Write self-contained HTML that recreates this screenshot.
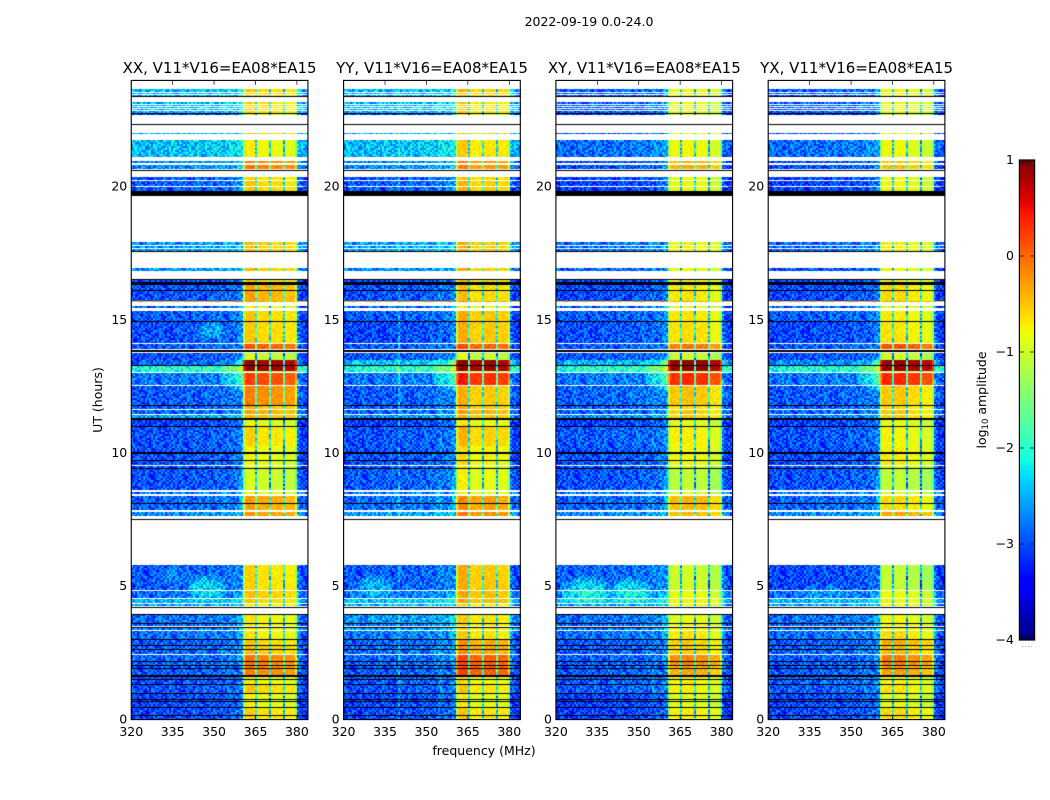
<!DOCTYPE html>
<html lang="en">
<head>
<meta charset="utf-8">
<title>2022-09-19 0.0-24.0 spectrograms</title>
<style>
html,body{margin:0;padding:0;background:#fff;width:1050px;height:800px;overflow:hidden}
#figure{position:relative;width:1050px;height:800px;background:#fff;font-family:"DejaVu Sans","Liberation Sans",sans-serif}
canvas{position:absolute;display:block}
svg{position:absolute;left:0;top:0}
text{font-family:"DejaVu Sans","Liberation Sans",sans-serif;fill:#000}
</style>
</head>
<body>
<div id="figure">
<canvas id="heat0" width="177" height="640" style="left:131px;top:80px"></canvas>
<canvas id="heat1" width="177" height="640" style="left:344px;top:80px"></canvas>
<canvas id="heat2" width="177" height="640" style="left:556px;top:80px"></canvas>
<canvas id="heat3" width="177" height="640" style="left:768px;top:80px"></canvas>
<canvas id="cbar" width="16" height="480" style="left:1019px;top:160px"></canvas>
<svg id="overlay" width="1050" height="800" viewBox="0 0 1050 800">
<text x="589" y="26" font-size="12.5" text-anchor="middle">2022-09-19 0.0-24.0</text>
<text x="219.6" y="73" font-size="15" text-anchor="middle">XX, V11*V16=EA08*EA15</text>
<text x="432" y="73" font-size="15" text-anchor="middle">YY, V11*V16=EA08*EA15</text>
<text x="644.3" y="73" font-size="15" text-anchor="middle">XY, V11*V16=EA08*EA15</text>
<text x="856.6" y="73" font-size="15" text-anchor="middle">YX, V11*V16=EA08*EA15</text>
<text x="484" y="755" font-size="12.5" text-anchor="middle">frequency (MHz)</text>
<text transform="translate(102 400) rotate(-90)" font-size="12.5" text-anchor="middle">UT (hours)</text>
<text transform="translate(986 400) rotate(-90)" font-size="12.5" text-anchor="middle">log<tspan font-size="8.5" dy="2">10</tspan><tspan dy="-2"> amplitude</tspan></text>
</svg>
</div>
<script>
/* Axis ticks */
const freqTicks = [320, 335, 350, 365, 380];
const utTicks = [0, 5, 10, 15, 20];
const colorTicks = [1, 0, -1, -2, -3, -4];
const colorTickLabels = ["1", "0", "\u22121", "\u22122", "\u22123", "\u22124"];
const panelNames = ["xx", "yy", "xy", "yx"];

/* Observation bands, UT hours */
const bandStart = [0,.47,1.01,1.33,1.65,2.04,2.47,2.79,3.03,3.35,3.48,3.63,4.25,4.36,4.55,4.85,7.66,7.88,8.48,8.63,9.44,9.55,10.28,11.01,11.33,11.46,11.67,11.82,12.57,13.00,13.10,13.28,13.52,13.91,14.14,14.96,15.45,15.67,15.72,16.43,16.86,17.58,19.83,20.04,20.26,20.67,20.88,21.14,21.97,22.71,22.79,23.39];
const bandEnd = [.47,1.01,1.33,1.65,2.04,2.47,2.79,3.03,3.35,3.48,3.63,3.91,4.33,4.51,4.81,5.82,7.81,8.41,8.56,9.44,9.53,10.28,11.01,11.29,11.44,11.63,11.82,12.53,13.00,13.10,13.28,13.52,13.78,14.10,14.96,15.34,15.52,15.72,16.31,16.54,16.95,17.92,19.98,20.21,20.36,20.84,20.99,21.78,22.04,22.79,23.20,23.69];

/* Background log10 amplitude (outside the interference block) per band */
const xxBg = [-2.95,-2.95,-2.9,-2.9,-2.85,-2.8,-2.8,-2.85,-2.75,-2.7,-2.8,-2.75,-2.5,-2.4,-2.75,-2.85,-2.6,-2.8,-2.7,-2.9,-2.9,-2.9,-2.9,-3,-2.5,-2.8,-2.85,-2.85,-2.7,-1.9,-1.9,-2.8,-2.9,-2.85,-2.9,-2.85,-2.8,-.3,-2.9,-3,-2.55,-2.55,-2.85,-2.85,-2.9,-2.6,-2.6,-2.35,-2.4,-3,-2.4,-2.4];
const yyBg = [-2.95,-2.95,-2.9,-2.85,-2.85,-2.8,-2.75,-2.8,-2.7,-2.5,-2.7,-2.55,-2.4,-2.3,-2.7,-2.85,-2.5,-2.75,-2.7,-2.85,-2.9,-2.9,-2.9,-3,-2.6,-2.8,-2.85,-2.85,-2.7,-1.9,-1.9,-2.3,-2.85,-2.85,-2.95,-2.85,-2.8,-.3,-2.9,-3,-2.6,-2.5,-2.85,-2.85,-2.9,-2.6,-2.6,-2.35,-2.4,-3,-2.4,-2.4];
const xyBg = [-3,-3,-2.85,-2.85,-2.85,-2.85,-2.85,-2.85,-2.75,-2.7,-2.8,-2.75,-2.5,-2.3,-2.6,-2.8,-2.6,-2.8,-2.7,-2.9,-2.9,-2.9,-2.85,-3,-2.6,-2.8,-2.85,-2.8,-2.7,-1.9,-1.9,-2.4,-2.85,-2.85,-2.9,-2.85,-2.8,-.35,-2.95,-3,-2.8,-2.75,-3,-3,-3,-2.9,-2.9,-2.75,-2.85,-3.1,-2.85,-2.85];
const yxBg = [-2.95,-2.95,-2.85,-2.8,-2.85,-2.85,-2.8,-2.85,-2.75,-2.7,-2.8,-2.75,-2.5,-2.4,-2.75,-2.95,-2.6,-2.8,-2.7,-2.9,-2.9,-2.95,-2.9,-3,-2.7,-2.8,-2.85,-2.85,-2.7,-1.95,-1.95,-2.6,-2.9,-2.85,-2.95,-2.85,-2.8,-.3,-2.95,-3,-2.9,-2.8,-3,-3,-3,-2.9,-2.9,-2.75,-2.85,-3.1,-2.85,-2.85];

/* Interference block log10 amplitude (360.5-380 MHz) per band */
const xxRfi = [-.65,-.85,-.6,-.8,-.2,-.15,-.55,-.6,-.75,-.8,-.75,-.75,-.85,-.6,-.55,-.65,-.3,-.35,-.85,-1,-.95,-.85,-.65,-.9,-.5,-.4,-.5,-.2,.15,-1,.85,.85,-1.05,.05,-.6,-.6,-.85,-.3,-.4,-.6,-.55,-.55,-.6,-.6,-.65,-.15,-.2,-.8,-.55,-.85,-.65,-.6];
const yyRfi = [-.65,-.85,-.65,-.75,.05,.05,-.35,-.35,-.65,-.7,-.7,-.65,-.75,-.45,-.45,-.5,-.2,-.3,-.85,-.85,-.85,-.75,-.55,-.8,-.5,-.4,-.5,-.5,.3,-1,.85,.85,-1.05,.05,-.5,-.5,-.85,-.3,-.6,-.6,-.55,-.5,-.55,-.55,-.6,-.25,-.25,-.65,-.55,-.85,-.65,-.55];
const xyRfi = [-.75,-.9,-.75,-.75,-.4,-.2,-.6,-.55,-.7,-.8,-.8,-.85,-.9,-.75,-.85,-1,-.45,-.45,-.95,-1.1,-1,-.8,-.75,-.9,-.6,-.55,-.65,-.5,.3,-1,.9,.9,-1.05,-.1,-.65,-.7,-.9,-.35,-.7,-.75,-.8,-.75,-.85,-.85,-.9,-.4,-.45,-.8,-.8,-.95,-.85,-.8];
const yxRfi = [-.65,-.9,-.7,-.8,-.35,-.15,-.5,-.4,-.65,-.8,-.8,-.8,-.9,-.8,-.85,-1.1,-.35,-.65,-.95,-1.1,-1,-.75,-.8,-.9,-.6,-.55,-.65,-.55,.3,-1,.85,.85,-1.05,.1,-.7,-.75,-.9,-.3,-.65,-.75,-.8,-.75,-.8,-.85,-.9,-.5,-.55,-.85,-.8,-.95,-.85,-.8];

/* Sub-band offsets (360.5-365, 365-370, 370-375, 375-380 MHz) */
const xxSubband = [.1, 0, -.03, -.08];
const yySubband = [.15, -.05, 0, -.05];
const xySubband = [0, .05, 0, -.15];
const yxSubband = [.05, .05, -.05, -.15];
const notchFreqs = [365.1, 370.2, 375.3];

/* Background trend versus frequency */
const trendFreqs = [320, 335, 350, 358, 360.5, 380, 381, 384];
const trendOffsets = [-.13, -.08, -.03, .05, .3, .25, -.05, -.3];

/* Localised brightenings: panel index, UT hours, MHz, half-sizes, log10 boost */
const blobPanel = [0,0,1,2,2,3,0,1,2,3,0];
const blobUT = [4.95,5.4,5.0,4.85,4.85,4.8,12.95,12.95,12.95,12.95,14.6];
const blobFreq = [347,335,331,331,347,340,360,360,360,360,349];
const blobHalfUT = [.55,.4,.5,.6,.55,.35,.75,.75,.75,.75,.4];
const blobHalfFreq = [9,6,8,10,9,10,8,8,8,8,6];
const blobBoost = [.6,.25,.5,.7,.6,.25,.6,.6,.65,.65,.45];

/* Persistent narrow channel */
const spikePanel = [1, 1, 2];
const spikeFreq = [340, 355, 355];
const spikeBoost = [.4, .15, .1];

/* Flagged rows (black) and dropped rows (white) in UT hours */
const flagLineUT = [.17,.47,.69,.77,1.01,1.33,1.54,1.93,2.04,2.21,2.66,2.79,3.03,3.48,3.61,3.95,4.23,7.55,8.15,9.44,9.74,11.01,11.82,13.3,14.96,16.12,16.54,17.58,20.64,22.38,22.79,23.4];
const flagBlockStart = [1.63, 9.98, 11.27, 13.78, 16.31, 19.64];
const flagBlockEnd = [1.69, 10.04, 11.33, 13.87, 16.43, 19.83];
const droppedLineUT = [23.58,23.5,23.43,23.13,23.04,22.95,22.87,17.82,17.7,13.05,3.37,3.52,2.47];

/* Measurement scatter sample, tiled over the panels (digits 0-9) */
const speckle = [
"385172946031827465093718264950372819460537291864",
"720649135862004713586248917358601417953680142975",
"146938297514763920851647032985174206839571046382",
"593027481190352847169205738461920573846215790463",
"261804759324677085293471650829346175582934670158",
"974316820597143882075013468205734946820571394620",
"048613772950418263975102648837150926473018569241",
"716205948371064592837610495283706194852073619485",
"352970164828539107462893015764281936057148263907",
"609481327056192384750361829405716283094571382604",
"183726095413670982546017398264059172836405917326",
"847059261387402156938472605193847261530984127056",
"261738490625817304966125073849162730495816203794",
"530962817404295718360248917563024189675302419687",
"978140352689361047285916403728510964378126045392",
"402815769130748265910473682051976340285719603148"
];

const panelBg = [xxBg, yyBg, xyBg, yxBg];
const panelRfi = [xxRfi, yyRfi, xyRfi, yxRfi];
const panelSubband = [xxSubband, yySubband, xySubband, yxSubband];

const panelLeft = [131.25, 343.6, 555.9, 768.2];
const plotTop = 80.4, plotBottom = 719.6, plotWidth = 176.7;
const freqMin = 320, freqMax = 384, utMin = 0, utMax = 24;

function xOf(p, f) { return panelLeft[p] + (f - freqMin) / (freqMax - freqMin) * plotWidth; }
function yOf(ut) { return plotBottom - (ut - utMin) / (utMax - utMin) * (plotBottom - plotTop); }
function freqAt(p, x) { return freqMin + (x - panelLeft[p]) / plotWidth * (freqMax - freqMin); }
function utAt(y) { return utMin + (plotBottom - y) / (plotBottom - plotTop) * (utMax - utMin); }
const colorTop = 160, colorBottom = 640;
function yColor(v) { return colorBottom - (v + 4) / 5 * (colorBottom - colorTop); }

function lerpTable(t, xs, ys) {
  if (t <= xs[0]) return ys[0];
  for (let i = 1; i < xs.length; i++) {
    if (t <= xs[i]) return ys[i-1] + (ys[i] - ys[i-1]) * (t - xs[i-1]) / (xs[i] - xs[i-1]);
  }
  return ys[ys.length - 1];
}
const jetR = [[0,.35,.66,.89,1],[0,0,1,1,.5]];
const jetG = [[0,.125,.375,.64,.91,1],[0,0,1,1,0,0]];
const jetB = [[0,.11,.34,.65,1],[.5,1,1,0,0]];
function jet(v) {
  const t = Math.max(0, Math.min(1, (v + 4) / 5));
  const c = a => Math.round(255 * lerpTable(t, a[0], a[1]));
  return "rgb(" + c(jetR) + "," + c(jetG) + "," + c(jetB) + ")";
}

function findBand(ut) {
  for (let i = 0; i < bandStart.length; i++) {
    if (ut >= bandStart[i] && ut < bandEnd[i]) return i;
  }
  return -1;
}
function blobAt(p, ut, f) {
  let sum = 0;
  for (let i = 0; i < blobPanel.length; i++) {
    if (blobPanel[i] !== p) continue;
    const du = (ut - blobUT[i]) / blobHalfUT[i], df = (f - blobFreq[i]) / blobHalfFreq[i];
    const d = du * du + df * df;
    if (d < 1) sum += blobBoost[i] * (1 - d);
  }
  return sum;
}
function speckleAt(col, row) {
  const r = Math.floor(row / 2), c = Math.floor(col / 2);
  const line = speckle[r % speckle.length];
  const shift = 17 * Math.floor(r / speckle.length);
  return (+line[(c + shift) % line.length] - 4.5) * 0.1;
}
function levelAt(p, band, f, ut, col, row) {
  const noise = speckleAt(col, row);
  if (f >= 360.5 && f < 380) {
    const sub = Math.min(3, Math.floor((f - 360.5) / 4.875));
    let v = panelRfi[p][band] + panelSubband[p][sub] + noise * .22;
    for (const n of notchFreqs) {
      if (Math.abs(f - n) < .4) v = Math.min(v - 1.5, -1.75) + noise;
    }
    if (f < 361.2) v -= .55;
    if (f > 379.3) v -= .5;
    return v;
  }
  let v = panelBg[p][band] + lerpTable(f, trendFreqs, trendOffsets) + noise;
  v += blobAt(p, ut, f);
  for (let i = 0; i < spikePanel.length; i++) {
    if (spikePanel[i] === p && Math.abs(f - spikeFreq[i]) < .5) v += spikeBoost[i];
  }
  return v;
}

function drawPanel(p) {
  const cv = document.getElementById("heat" + p);
  const ctx = cv.getContext("2d");
  const left = parseFloat(cv.style.left), top = parseFloat(cv.style.top);
  ctx.fillStyle = "#fff";
  ctx.fillRect(0, 0, cv.width, cv.height);
  for (let row = 0; row < cv.height; row++) {
    const ut = utAt(top + row + .5);
    const band = findBand(ut);
    if (band < 0) continue;
    for (let col = 0; col < cv.width; col += 2) {
      const f = freqAt(p, left + col + 1);
      if (f < freqMin) continue;
      ctx.fillStyle = jet(levelAt(p, band, f, ut, col, row));
      ctx.fillRect(col, row, 2, 1);
    }
  }
  ctx.fillStyle = "#fff";
  for (const ut of droppedLineUT) ctx.fillRect(0, Math.round(yOf(ut) - top), cv.width, 1);
  ctx.fillStyle = "#000";
  for (const ut of flagLineUT) ctx.fillRect(0, Math.round(yOf(ut) - top), cv.width, 1);
  for (let i = 0; i < flagBlockStart.length; i++) {
    const y0 = yOf(flagBlockEnd[i]) - top, y1 = yOf(flagBlockStart[i]) - top;
    ctx.fillRect(0, Math.round(y0), cv.width, Math.round(y1 - y0));
  }
}
for (let p = 0; p < panelNames.length; p++) drawPanel(p);

/* Colorbar gradient */
(function () {
  const cv = document.getElementById("cbar");
  const ctx = cv.getContext("2d");
  for (let r = 0; r < cv.height; r++) {
    ctx.fillStyle = jet(1 - (r + .5) / cv.height * 5);
    ctx.fillRect(0, r, cv.width, 1);
  }
})();

/* Axes */
const NS = "http://www.w3.org/2000/svg";
const svg = document.getElementById("overlay");
function line(x1, y1, x2, y2, w) {
  const el = document.createElementNS(NS, "line");
  el.setAttribute("x1", x1); el.setAttribute("y1", y1);
  el.setAttribute("x2", x2); el.setAttribute("y2", y2);
  el.setAttribute("stroke", "#000");
  el.setAttribute("stroke-width", w);
  svg.appendChild(el);
  return el;
}
function label(x, y, s, anchor) {
  const el = document.createElementNS(NS, "text");
  el.setAttribute("x", x); el.setAttribute("y", y);
  el.setAttribute("font-size", "12.5");
  el.setAttribute("text-anchor", anchor);
  el.textContent = s;
  svg.appendChild(el);
  return el;
}
panelNames.forEach(function (name, p) {
  const x0 = panelLeft[p], x1 = x0 + plotWidth;
  const frame = document.createElementNS(NS, "rect");
  frame.setAttribute("x", x0); frame.setAttribute("y", plotTop);
  frame.setAttribute("width", plotWidth); frame.setAttribute("height", plotBottom - plotTop);
  frame.setAttribute("fill", "none");
  frame.setAttribute("stroke", "#000");
  frame.setAttribute("stroke-width", "1.1");
  
  
  svg.appendChild(frame);
  freqTicks.forEach(function (f) {
    const x = xOf(p, f);
    const t1 = line(x, plotBottom, x, plotBottom - 4.5, .7);
    
    
    const t2 = line(x, plotTop, x, plotTop + 4.5, .7);
    
    
    const l = label(x, 736, String(f), "middle");
    
    
  });
  utTicks.forEach(function (u) {
    const y = yOf(u);
    const t1 = line(x0, y, x0 + 4.5, y, .7);
    
    
    const t2 = line(x1, y, x1 - 4.5, y, .7);
    
    
    const l = label(x0 - 4, y + 3.8, String(u), "end");
    
    
  });
});

/* Colorbar frame and ticks */
const cbLeft = 1019.4, cbRight = 1034.6;
const cbFrame = document.createElementNS(NS, "rect");
cbFrame.setAttribute("x", cbLeft); cbFrame.setAttribute("y", colorTop);
cbFrame.setAttribute("width", cbRight - cbLeft); cbFrame.setAttribute("height", colorBottom - colorTop);
cbFrame.setAttribute("fill", "none");
cbFrame.setAttribute("stroke", "#000");
cbFrame.setAttribute("stroke-width", "1.2");


svg.appendChild(cbFrame);
colorTicks.forEach(function (v, i) {
  const y = yColor(v);
  const a = line(cbLeft, y, cbLeft + 4.5, y, .7);
  
  
  const b = line(cbRight, y, cbRight - 4.5, y, .7);
  
  
  const l = label(1014, y + 4, colorTickLabels[i], "end");
  
  
});
const cbEndTicks = [.2, .4, .6, .8];
cbEndTicks.forEach(function (t) {
  const x = cbLeft + t * (cbRight - cbLeft);
  const a = line(x, colorTop, x, colorTop + 4.5, .7);
  
  
  const b = line(x, colorBottom, x, colorBottom - 4.5, .7);
  
  
  const d = document.createElementNS(NS, "rect");
  d.setAttribute("x", x - .5); d.setAttribute("y", 646);
  d.setAttribute("width", 1); d.setAttribute("height", 1);
  d.setAttribute("fill", "#aaa");
  
  
  svg.appendChild(d);
});
</script>
</body>
</html>
